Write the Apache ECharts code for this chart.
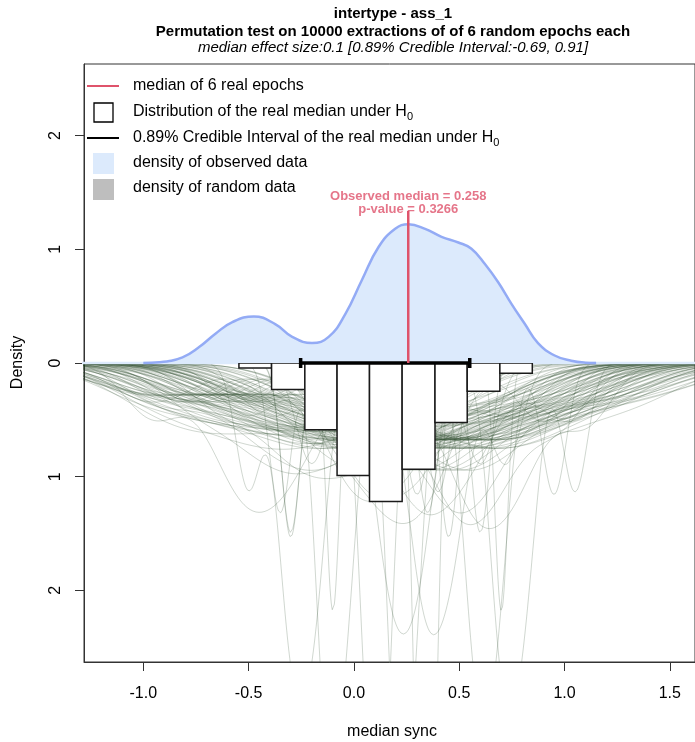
<!DOCTYPE html>
<html><head><meta charset="utf-8">
<script src="https://cdn.jsdelivr.net/npm/echarts@6/dist/echarts.min.js"></script>
<style>html,body{margin:0;padding:0;background:#fff}#c{width:695px;height:742px}</style>
</head><body><div id="c"></div>
<script>
// ---------- data ----------
const titleLine1 = 'intertype - ass_1';
const titleLine2 = 'Permutation test on 10000 extractions of of 6 random epochs each';
const titleLine3 = 'median effect size:0.1 [0.89% Credible Interval:-0.69, 0.91]';
const xAxisTitle = 'median sync';
const yAxisTitle = 'Density';
const legendLabels = ['median of 6 real epochs', 'Distribution of the real median under H', '0.89% Credible Interval of the real median under H', 'density of observed data', 'density of random data'];
const xTicks = [-1.0, -0.5, 0.0, 0.5, 1.0, 1.5];
const yTicks = [-2, -1, 0, 1, 2];

// observed density
const obsX = [-1.0, -0.924, -0.814, -0.735, -0.656, -0.577, -0.475, -0.372, -0.293, -0.199, -0.12, -0.041, 0.038, 0.117, 0.196, 0.259, 0.338, 0.416, 0.496, 0.558, 0.622, 0.685, 0.748, 0.811, 0.874, 0.953, 1.032, 1.1, 1.15];
const obsY = [0.0, 0.006, 0.05, 0.14, 0.26, 0.36, 0.41, 0.34, 0.23, 0.175, 0.23, 0.43, 0.73, 1.02, 1.18, 1.22, 1.18, 1.11, 1.06, 1.005, 0.87, 0.71, 0.52, 0.345, 0.175, 0.066, 0.02, 0.003, 0.0];

// histogram of permuted medians (drawn downward)
const histEdges = [-0.546, -0.391, -0.233, -0.080, 0.074, 0.229, 0.385, 0.538, 0.693, 0.847];
const histDensity = [0.045, 0.233, 0.588, 0.99, 1.218, 0.934, 0.523, 0.248, 0.09];

const ciBounds = [-0.253, 0.550];
const observedMedian = 0.258;
const medianLineTop = 1.336;
const pValue = '0.3266';

// random 6-epoch extractions (estimated), each drawn as its kernel density, downward
const randomEpochs = [
 [-0.95,-0.65,-0.4,-0.25,0.0,0.35],[-0.9,-0.75,-0.45,-0.15,0.1,0.2],[-0.9,-0.5,-0.3,-0.15,0.0,0.35],
 [-0.85,-0.65,-0.25,-0.05,0.1,0.55],[-0.95,-0.4,-0.3,-0.05,0.25,0.7],[-1.0,-0.65,-0.35,-0.15,0.0,0.35],
 [-0.75,-0.55,-0.15,0.05,0.2,0.65],[-0.9,-0.35,-0.25,0.0,0.3,0.75],[-0.95,-0.6,-0.3,-0.1,0.05,0.4],
 [-0.7,-0.4,-0.15,0.15,0.45,0.85],[-0.95,-0.6,-0.35,-0.1,0.15,0.35],[-0.65,-0.5,-0.1,0.1,0.25,0.7],
 [-0.85,-0.4,-0.15,0.0,0.25,0.6],[-0.7,-0.25,-0.15,0.1,0.4,0.85],[-0.9,-0.5,-0.2,0.0,0.15,0.5],
 [-0.65,-0.35,-0.1,0.2,0.5,0.9],[-0.8,-0.35,-0.1,0.05,0.3,0.65],[-0.65,-0.45,-0.15,0.15,0.4,0.5],
 [-0.95,-0.25,-0.05,0.1,0.25,0.6],[-0.55,-0.4,0.0,0.2,0.35,0.8],[-0.75,-0.3,-0.05,0.1,0.35,0.7],
 [-0.7,-0.15,-0.05,0.2,0.5,0.95],[-1.0,-0.4,-0.1,0.1,0.25,0.6],[-0.55,-0.25,0.0,0.3,0.6,1.0],
 [-0.8,-0.45,-0.2,0.05,0.3,0.5],[-0.55,-0.35,-0.05,0.25,0.5,0.6],[-0.85,-0.15,0.05,0.2,0.35,0.7],
 [-0.45,-0.3,0.1,0.3,0.45,0.9],[-0.7,-0.25,0.0,0.15,0.4,0.75],[-0.95,-0.35,-0.05,0.15,0.3,0.65],
 [-0.65,-0.2,0.05,0.2,0.45,0.8],[-0.5,-0.3,0.0,0.3,0.55,0.65],[-0.8,-0.1,0.1,0.25,0.4,0.75],
 [-0.4,-0.25,0.15,0.35,0.5,0.95],[-0.6,-0.05,0.05,0.3,0.6,1.05],[-0.9,-0.3,0.0,0.2,0.35,0.7],
 [-0.6,-0.15,0.1,0.25,0.5,0.85],[-0.45,-0.25,0.05,0.35,0.6,0.7],[-0.75,-0.05,0.15,0.3,0.45,0.8],
 [-0.35,-0.2,0.2,0.4,0.55,1.0],[-0.55,0.0,0.1,0.35,0.65,1.1],[-0.85,-0.25,0.05,0.25,0.4,0.75],
 [-0.4,-0.1,0.15,0.45,0.75,1.15],[-0.55,-0.1,0.15,0.3,0.55,0.9],[-0.4,-0.2,0.1,0.4,0.65,0.75],
 [-0.7,0.0,0.2,0.35,0.5,0.85],[-0.3,-0.15,0.25,0.45,0.6,1.05],[-0.5,0.05,0.15,0.4,0.7,1.15],
 [-0.8,-0.2,0.1,0.3,0.45,0.8],[-0.35,-0.05,0.2,0.5,0.8,1.2],[-0.5,-0.05,0.2,0.35,0.6,0.95],
 [-0.35,-0.15,0.15,0.45,0.7,0.8],[-0.65,0.05,0.25,0.4,0.55,0.9],[-0.25,-0.1,0.3,0.5,0.65,1.1],
 [-0.45,0.1,0.2,0.45,0.75,1.2],[-0.75,-0.15,0.15,0.35,0.5,0.85],[-0.45,0.0,0.25,0.4,0.65,1.0],
 [-0.3,-0.1,0.2,0.5,0.75,0.85],[-0.6,0.1,0.3,0.45,0.6,0.95],[-0.2,-0.05,0.35,0.55,0.7,1.15],
 [-0.7,-0.1,0.2,0.4,0.55,0.9],[-0.4,0.05,0.3,0.45,0.7,1.05],[-0.25,-0.05,0.25,0.55,0.8,0.9],
 [-0.55,0.15,0.35,0.5,0.65,1.0],[-0.35,0.2,0.3,0.55,0.85,1.3],[-0.35,0.1,0.35,0.5,0.75,1.1],
 [-0.5,0.2,0.4,0.55,0.7,1.05],[-0.15,0.0,0.4,0.6,0.75,1.2],[-0.6,0.0,0.3,0.5,0.65,1.0],
 [-0.3,0.15,0.4,0.55,0.8,1.15],[-0.1,0.05,0.45,0.65,0.8,1.25],[-0.45,0.25,0.45,0.6,0.75,1.1],
 [-0.25,0.2,0.45,0.6,0.85,1.2],[-0.5,0.05,0.35,0.55,0.7,1.05],[-0.05,0.1,0.5,0.7,0.85,1.3],
 [-0.2,0.25,0.5,0.65,0.9,1.25],[-0.45,0.15,0.45,0.65,0.8,1.15],[0.0,0.15,0.55,0.75,0.9,1.4],
 [-0.4,0.2,0.5,0.7,0.85,1.2],[-0.1,0.35,0.6,0.75,1.0,1.35],
 [-1.0,-0.45,-0.2,0.05,0.3,0.55],[-0.2,0.05,0.3,0.55,0.8,1.3],[-0.95,-0.5,-0.25,0.0,0.2,0.6],
 [-0.1,0.15,0.4,0.6,0.9,1.35],[-0.9,-0.55,-0.3,-0.05,0.15,0.45],[0.0,0.2,0.45,0.7,0.95,1.4],
 [-0.5,-0.05,0.02,0.18,0.31,0.7],[-0.1,0.08,0.19,0.3,0.41,0.9],[-0.62,-0.3,-0.21,0.0,0.12,0.45],
 [0.0,0.25,0.33,0.45,0.6,1.0],[-0.75,-0.45,-0.33,-0.15,0.02,0.3],[0.1,0.35,0.48,0.56,0.72,1.05],
 [-0.4,0.0,0.08,0.25,0.36,0.75],[0.15,0.4,0.52,0.6,0.74,0.98],[0.2,0.5,0.6,0.7,0.82,1.1],
 [-0.95,-0.6,-0.5,-0.38,-0.25,0.1],
 [-0.3,0.05,0.09,0.13,0.16,0.45],[-0.5,-0.32,-0.28,-0.22,-0.17,0.1],[0.3,0.55,0.6,0.64,0.7,0.95],
 [-0.2,0.14,0.2,0.27,0.33,0.6],[0.05,0.3,0.35,0.42,0.49,0.72],[0.4,0.68,0.72,0.77,0.83,1.05],
 [-0.3,0.18,0.22,0.24,0.3,0.6],[-0.35,-0.15,-0.12,-0.08,-0.02,0.35],[-0.1,0.3,0.33,0.35,0.38,0.7]
];

// ---------- helpers: R-style density() with bw.nrd0 ----------
function q7(s, p) { const h = (s.length - 1) * p, lo = Math.floor(h); const hi = Math.min(lo + 1, s.length - 1); return s[lo] + (h - lo) * (s[hi] - s[lo]); }
function bwNrd0(x) {
  const s = [...x].sort((a, b) => a - b), n = s.length;
  const m = s.reduce((a, b) => a + b, 0) / n;
  const sd = Math.sqrt(s.reduce((a, b) => a + (b - m) * (b - m), 0) / (n - 1));
  let lo = Math.min(sd, (q7(s, 0.75) - q7(s, 0.25)) / 1.34);
  if (!(lo > 0)) lo = sd || 1;
  return 0.9 * lo * Math.pow(n, -0.2);
}
function kde(x, npts) {
  const bw = bwNrd0(x);
  const from = Math.min(...x) - 3 * bw, to = Math.max(...x) + 3 * bw;
  const out = [];
  for (let i = 0; i < npts; i++) {
    const t = from + (to - from) * i / (npts - 1);
    let d = 0;
    for (const v of x) { const z = (t - v) / bw; d += Math.exp(-0.5 * z * z); }
    d /= x.length * bw * Math.sqrt(2 * Math.PI);
    out.push([t, -d]);
  }
  return out;
}

// ---------- chart ----------
const FONT = '"Liberation Sans", Arial, Helvetica, sans-serif';
const RED = '#DF536B';
const chart = echarts.init(document.getElementById('c'), null, { renderer: 'canvas' });

const series = [];
randomEpochs.forEach(s => {
  series.push({ type: 'line', data: kde(s, 400), showSymbol: false, silent: true, z: 1,
    lineStyle: { color: 'rgba(40,72,40,0.22)', width: 1 }, clip: true });
});
series.push({ type: 'line', data: [[-1.3, 0], [1.65, 0]], showSymbol: false, silent: true, z: 2,
  lineStyle: { color: '#dceafc', width: 2.5 } });
series.push({
  type: 'custom', z: 3, silent: true,
  data: histDensity.map((d, i) => [histEdges[i], histEdges[i + 1], -d]),
  encode: { x: [0, 1], y: 2 },
  renderItem: (params, api) => {
    const p0 = api.coord([api.value(0), 0]);
    const p1 = api.coord([api.value(1), api.value(2)]);
    return { type: 'rect', shape: { x: p0[0], y: p0[1], width: p1[0] - p0[0], height: p1[1] - p0[1] },
      style: { fill: '#ffffff', stroke: '#1a1a1a', lineWidth: 1.5 } };
  }
});
series.push({ type: 'line', data: obsX.map((x, i) => [x, obsY[i]]), showSymbol: false, silent: true, z: 4,
  smooth: 0.45,
  lineStyle: { color: '#93abf5', width: 2.5 }, areaStyle: { color: '#dceafc', opacity: 1 } });
series.push({
  type: 'custom', z: 5, silent: true,
  data: [[ciBounds[0], ciBounds[1], 0]],
  encode: { x: [0, 1], y: 2 },
  renderItem: (params, api) => {
    const a = api.coord([api.value(0), api.value(2)]);
    const b = api.coord([api.value(1), api.value(2)]);
    const st = { stroke: '#000', lineWidth: 3.5 };
    return { type: 'group', children: [
      { type: 'line', shape: { x1: a[0], y1: a[1], x2: b[0], y2: b[1] }, style: st },
      { type: 'line', shape: { x1: a[0], y1: a[1] - 5, x2: a[0], y2: a[1] + 5 }, style: st },
      { type: 'line', shape: { x1: b[0], y1: b[1] - 5, x2: b[0], y2: b[1] + 5 }, style: st }
    ] };
  }
});
series.push({ type: 'line', data: [[observedMedian, 0], [observedMedian, medianLineTop]], showSymbol: false, silent: true, z: 6,
  lineStyle: { color: RED, width: 2.5 } });
series.push({ type: 'scatter', data: [[observedMedian, medianLineTop]], symbolSize: 0, silent: true, z: 7,
  label: { show: true, position: 'top', distance: -5, color: RED, fontWeight: 'bold', fontSize: 13, lineHeight: 13,
    fontFamily: FONT, align: 'center',
    formatter: () => 'Observed median = ' + observedMedian + '\np-value = ' + pValue } });

// legend & titles as graphic
const mctx = document.createElement('canvas').getContext('2d');
mctx.font = '16px ' + FONT;
const legY = [86, 112, 138, 163, 188];
const graphics = [
  { type: 'text', x: 393, y: 14, style: { text: titleLine1, font: 'bold 15px ' + FONT, fill: '#000', align: 'center', verticalAlign: 'middle' } },
  { type: 'text', x: 393, y: 32, style: { text: titleLine2, font: 'bold 15px ' + FONT, fill: '#000', align: 'center', verticalAlign: 'middle' } },
  { type: 'text', x: 393, y: 48, style: { text: titleLine3, font: 'italic 15px ' + FONT, fill: '#000', align: 'center', verticalAlign: 'middle' } },
  { type: 'text', x: 392, y: 732, style: { text: xAxisTitle, font: '16px ' + FONT, fill: '#000', align: 'center', verticalAlign: 'middle' } },
  { type: 'text', x: 17.5, y: 362.5, rotation: Math.PI / 2, style: { text: yAxisTitle, font: '16px ' + FONT, fill: '#000', align: 'center', verticalAlign: 'middle' } },
  { type: 'line', shape: { x1: 87, y1: 86, x2: 119, y2: 86 }, style: { stroke: RED, lineWidth: 2 } },
  { type: 'rect', shape: { x: 94, y: 103, width: 19, height: 19 }, style: { fill: '#fff', stroke: '#000', lineWidth: 1.3 } },
  { type: 'line', shape: { x1: 87, y1: 138, x2: 119, y2: 138 }, style: { stroke: '#000', lineWidth: 2 } },
  { type: 'rect', shape: { x: 93, y: 153, width: 21, height: 21 }, style: { fill: '#dceafc' } },
  { type: 'rect', shape: { x: 93, y: 179, width: 21, height: 21 }, style: { fill: '#bebebe' } }
];
legendLabels.forEach((t, i) => {
  graphics.push({ type: 'text', x: 133, y: legY[i], style: { text: t, font: '16px ' + FONT, fill: '#000', align: 'left', verticalAlign: 'middle' } });
  if (i === 1 || i === 2) {
    const w = mctx.measureText(t).width;
    graphics.push({ type: 'text', x: 133 + w, y: legY[i] + 5, style: { text: '0', font: '11px ' + FONT, fill: '#000', align: 'left', verticalAlign: 'middle' } });
  }
});

chart.setOption({
  animation: false,
  backgroundColor: '#fff',
  grid: { left: 84, top: 64, width: 613, height: 598, show: true, borderColor: '#333', borderWidth: 1, backgroundColor: 'transparent' },
  xAxis: {
    type: 'value', min: -1.2816, max: 1.6195,
    splitLine: { show: false },
    axisLine: { show: true, onZero: false, lineStyle: { color: '#333', width: 1 } },
    axisTick: { show: true, length: 9, customValues: xTicks, lineStyle: { color: '#333' } },
    axisLabel: { customValues: xTicks, formatter: v => Number(v).toFixed(1), fontSize: 16, color: '#000', fontFamily: FONT, margin: 24 }
  },
  yAxis: {
    type: 'value', min: -2.63, max: 2.63,
    splitLine: { show: false },
    axisLine: { show: true, onZero: false, lineStyle: { color: '#333', width: 1 } },
    axisTick: { show: true, length: 9, customValues: yTicks, lineStyle: { color: '#333' } },
    axisLabel: { customValues: yTicks, formatter: v => String(Math.abs(v)), rotate: 90, fontSize: 16, color: '#000', fontFamily: FONT, margin: 20 }
  },
  graphic: graphics,
  series: series
});
</script>
</body></html>
